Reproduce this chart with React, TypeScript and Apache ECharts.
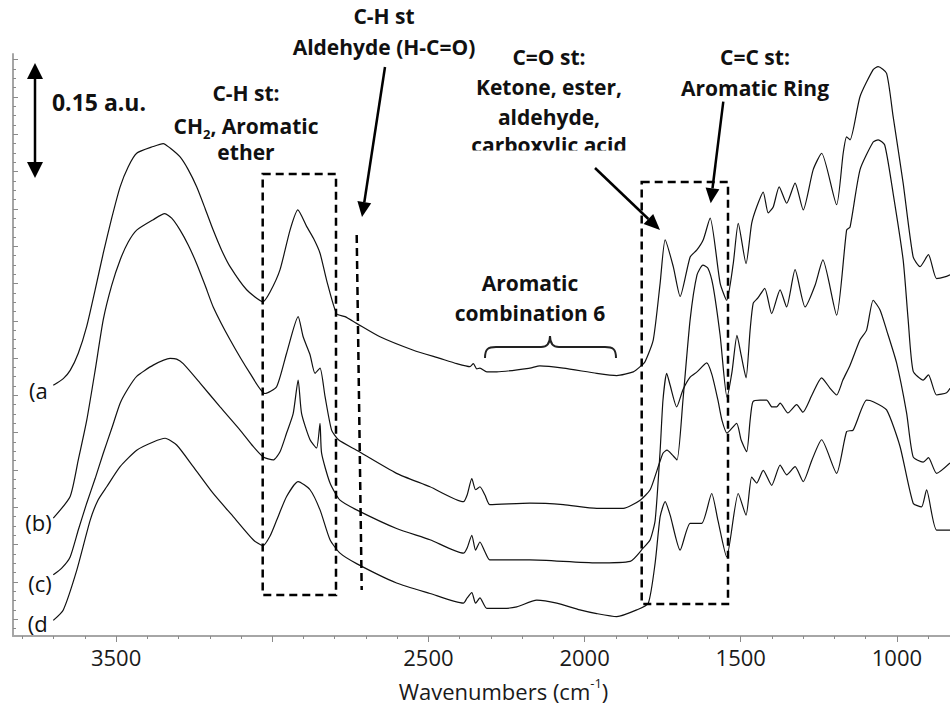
import { useEffect, useRef } from "react";
import * as echarts from "echarts";

// FTIR spectra, [wavenumber (cm-1), absorbance (a.u., stacked offsets)]
const traceA: [number, number][] = [
  [3701, 0.336], [3669, 0.345], [3647, 0.356], [3621, 0.379], [3594, 0.415], [3567, 0.464],
  [3541, 0.513], [3514, 0.56], [3487, 0.602], [3461, 0.629], [3434, 0.647], [3381, 0.656],
  [3349, 0.66], [3327, 0.654], [3295, 0.642], [3269, 0.625], [3242, 0.602], [3215, 0.573],
  [3189, 0.544], [3162, 0.517], [3135, 0.495], [3082, 0.464], [3030, 0.448], [3007, 0.461],
  [2975, 0.491], [2943, 0.544], [2918, 0.571], [2890, 0.549], [2868, 0.533], [2847, 0.513],
  [2826, 0.477], [2794, 0.432], [2767, 0.428], [2730, 0.419], [2655, 0.401], [2548, 0.383],
  [2463, 0.372], [2409, 0.365], [2367, 0.361], [2356, 0.365], [2345, 0.358], [2335, 0.359],
  [2313, 0.354], [2281, 0.354], [2175, 0.359], [2143, 0.362], [2068, 0.359], [1961, 0.352],
  [1897, 0.349], [1844, 0.354], [1822, 0.361], [1806, 0.368], [1780, 0.397], [1758, 0.473],
  [1742, 0.531], [1716, 0.495], [1694, 0.455], [1662, 0.508], [1641, 0.517], [1620, 0.531],
  [1598, 0.56], [1566, 0.473], [1545, 0.45], [1524, 0.499], [1508, 0.553], [1483, 0.499],
  [1465, 0.553], [1449, 0.575], [1428, 0.595], [1412, 0.567], [1396, 0.575], [1377, 0.602],
  [1353, 0.58], [1326, 0.607], [1300, 0.571], [1268, 0.625], [1241, 0.647], [1193, 0.578],
  [1172, 0.647], [1161, 0.669], [1150, 0.665], [1118, 0.723], [1076, 0.759], [1060, 0.763],
  [1033, 0.754], [1012, 0.696], [980, 0.607], [948, 0.508], [926, 0.495], [899, 0.511],
  [873, 0.479], [841, 0.482], [830, 0.484],
];

const traceB: [number, number][] = [
  [3701, 0.158], [3647, 0.187], [3621, 0.236], [3594, 0.289], [3567, 0.356], [3541, 0.424],
  [3514, 0.47], [3487, 0.504], [3461, 0.528], [3434, 0.544], [3381, 0.558], [3344, 0.566],
  [3322, 0.56], [3295, 0.544], [3269, 0.524], [3242, 0.499], [3215, 0.47], [3189, 0.441],
  [3135, 0.397], [3071, 0.352], [3023, 0.325], [2986, 0.334], [2954, 0.379], [2917, 0.428],
  [2901, 0.401], [2879, 0.377], [2863, 0.352], [2847, 0.359], [2831, 0.321], [2810, 0.276],
  [2788, 0.263], [2730, 0.249], [2602, 0.218], [2495, 0.2], [2388, 0.18], [2376, 0.189],
  [2361, 0.211], [2349, 0.196], [2335, 0.2], [2319, 0.189], [2303, 0.176], [2175, 0.178],
  [2068, 0.176], [1961, 0.171], [1876, 0.171], [1822, 0.182], [1790, 0.196], [1768, 0.222],
  [1749, 0.245], [1736, 0.249], [1720, 0.243], [1704, 0.236], [1685, 0.316], [1662, 0.424],
  [1640, 0.484], [1621, 0.497], [1605, 0.493], [1589, 0.47], [1566, 0.403], [1544, 0.32],
  [1528, 0.354], [1512, 0.403], [1499, 0.377], [1483, 0.346], [1470, 0.41], [1460, 0.446],
  [1445, 0.453], [1423, 0.466], [1401, 0.432], [1374, 0.464], [1353, 0.441], [1326, 0.491],
  [1294, 0.441], [1262, 0.47], [1237, 0.504], [1193, 0.43], [1161, 0.544], [1150, 0.548],
  [1118, 0.625], [1076, 0.662], [1060, 0.665], [1039, 0.658], [1012, 0.593], [980, 0.504],
  [964, 0.424], [948, 0.355], [916, 0.343], [899, 0.35], [873, 0.323], [841, 0.326],
  [830, 0.332],
];

const traceC: [number, number][] = [
  [3701, 0.082], [3674, 0.091], [3647, 0.106], [3621, 0.142], [3594, 0.178], [3567, 0.211],
  [3541, 0.245], [3514, 0.278], [3487, 0.312], [3461, 0.332], [3434, 0.348], [3381, 0.363],
  [3327, 0.372], [3306, 0.371], [3285, 0.365], [3231, 0.339], [3167, 0.307], [3103, 0.276],
  [3061, 0.254], [3029, 0.24], [2997, 0.236], [2975, 0.247], [2954, 0.272], [2933, 0.298],
  [2917, 0.343], [2906, 0.298], [2879, 0.263], [2858, 0.252], [2847, 0.285], [2842, 0.245],
  [2815, 0.205], [2783, 0.182], [2730, 0.169], [2602, 0.144], [2495, 0.129], [2388, 0.111],
  [2376, 0.118], [2361, 0.135], [2349, 0.115], [2335, 0.126], [2319, 0.113], [2303, 0.102],
  [2175, 0.102], [1961, 0.098], [1854, 0.1], [1812, 0.118], [1790, 0.129], [1774, 0.155],
  [1758, 0.249], [1749, 0.316], [1737, 0.352], [1726, 0.336], [1705, 0.307], [1685, 0.33],
  [1662, 0.347], [1640, 0.354], [1609, 0.366], [1592, 0.35], [1573, 0.316], [1560, 0.289],
  [1544, 0.272], [1513, 0.285], [1499, 0.263], [1481, 0.247], [1470, 0.289], [1461, 0.314],
  [1438, 0.316], [1417, 0.316], [1400, 0.307], [1385, 0.307], [1374, 0.312], [1349, 0.299],
  [1321, 0.31], [1301, 0.3], [1272, 0.323], [1241, 0.346], [1214, 0.332], [1193, 0.323],
  [1173, 0.343], [1150, 0.363], [1118, 0.397], [1097, 0.41], [1076, 0.45], [1054, 0.437],
  [1033, 0.41], [1001, 0.366], [969, 0.299], [948, 0.24], [916, 0.233], [899, 0.239],
  [873, 0.218], [830, 0.232],
];

const traceD: [number, number][] = [
  [3701, 0.021], [3669, 0.035], [3626, 0.088], [3583, 0.155], [3558, 0.182], [3530, 0.2],
  [3487, 0.227], [3434, 0.249], [3381, 0.26], [3343, 0.265], [3306, 0.256], [3253, 0.227],
  [3189, 0.191], [3125, 0.16], [3061, 0.129], [3030, 0.121], [3007, 0.134], [2986, 0.155],
  [2954, 0.187], [2917, 0.207], [2879, 0.196], [2847, 0.169], [2815, 0.129], [2783, 0.111],
  [2730, 0.097], [2602, 0.071], [2495, 0.057], [2388, 0.044], [2376, 0.051], [2361, 0.058],
  [2349, 0.044], [2335, 0.051], [2313, 0.037], [2260, 0.037], [2217, 0.039], [2153, 0.048],
  [2089, 0.044], [2015, 0.035], [1961, 0.03], [1897, 0.026], [1833, 0.035], [1796, 0.044],
  [1774, 0.098], [1758, 0.16], [1742, 0.18], [1726, 0.162], [1694, 0.115], [1662, 0.151],
  [1625, 0.151], [1593, 0.191], [1573, 0.155], [1545, 0.106], [1508, 0.191], [1483, 0.162],
  [1465, 0.213], [1449, 0.205], [1428, 0.222], [1401, 0.202], [1374, 0.229], [1353, 0.216],
  [1326, 0.227], [1300, 0.207], [1272, 0.236], [1241, 0.263], [1193, 0.218], [1161, 0.274],
  [1140, 0.276], [1097, 0.316], [1076, 0.314], [1033, 0.303], [990, 0.254], [948, 0.178],
  [921, 0.173], [905, 0.196], [873, 0.142], [830, 0.142],
];

const traceLabels = ["(a", "(b)", "(c)", "(d"];

// axis ticks (cm-1 on x, a.u. on y)
const xMajorTicks = [1000, 1500, 2000, 2500, 3000, 3500];
const xTickLabels = [1000, 1500, 2000, 2500, 3500];
const xMinorTicks: number[] = [];
for (let v = 900; v <= 3800; v += 100) if (v % 500 !== 0) xMinorTicks.push(v);
const yMajorTicks: number[] = [];
const yMinorTicks: number[] = [];
for (let i = 0; i < 16; i++) yMajorTicks.push(+(0.0225 + i * 0.05).toFixed(4));
for (let i = 0; i < 63; i++) {
  const v = +(0.0225 + i * 0.0125 - 0.0125).toFixed(4);
  if (i % 4 !== 1 && v > 0 && v < 0.78) yMinorTicks.push(v);
}

const FONT = '"Open Sans", "Noto Sans", sans-serif';
const INK = "#111";

const boldText = (text: string, x: number, y: number, size = 21) => ({
  type: "text",
  x,
  y,
  z: 100,
  silent: true,
  style: {
    text,
    font: `bold ${size}px ${FONT}`,
    fill: INK,
    align: "center",
    verticalAlign: "middle",
    textAlign: "center",
    textVerticalAlign: "middle",
  },
});

const dashed = { stroke: "#000", lineWidth: 2.5, lineDash: [8, 5], fill: "none" };
const solid = { stroke: "#000", lineWidth: 2.5 };

const arrowLine = (x1: number, y1: number, x2: number, y2: number) => ({
  type: "line",
  z: 100,
  silent: true,
  shape: { x1, y1, x2, y2 },
  style: solid,
});
const head = (pts: number[][]) => ({
  type: "polygon",
  z: 100,
  silent: true,
  shape: { points: pts },
  style: { fill: "#000" },
});
const brace = (x1: number, y1: number, cpx1: number, cpy1: number, cpx2: number, cpy2: number, x2: number, y2: number) => ({
  type: "bezierCurve",
  z: 100,
  silent: true,
  shape: { x1, y1, cpx1, cpy1, cpx2, cpy2, x2, y2 },
  style: { stroke: "#222", lineWidth: 2, fill: "none" },
});

const annotations = [
  // 0.15 a.u. scale bar
  arrowLine(35, 76, 35, 165),
  head([[35, 63], [27, 79], [43, 79]]),
  head([[35, 178], [27, 162], [43, 162]]),
  boldText("0.15 a.u.", 99, 102, 23),

  // C-H stretch box
  boldText("C-H st:", 246, 93),
  {
    type: "text",
    x: 246,
    y: 126,
    z: 100,
    silent: true,
    style: {
      text: "{m|CH}{s|2}{m|, Aromatic}",
      align: "center",
      verticalAlign: "middle",
      textAlign: "center",
      textVerticalAlign: "middle",
      rich: {
        m: { fontSize: 21, fontWeight: "bold", fontFamily: FONT, fill: INK, color: INK, lineHeight: 28 },
        s: { fontSize: 13, fontWeight: "bold", fontFamily: FONT, fill: INK, color: INK, lineHeight: 18, verticalAlign: "bottom" },
      },
    },
  },
  boldText("ether", 246, 152),
  { type: "rect", z: 100, silent: true, shape: { x: 262.7, y: 174, width: 73.3, height: 421 }, style: dashed },

  // aldehyde C-H
  boldText("C-H st", 384, 16),
  boldText("Aldehyde (H-C=O)", 384, 47),
  arrowLine(385, 67, 364.3, 202.2),
  head([[362, 217], [371.2, 203.3], [357.4, 201.1]]),
  { type: "line", z: 100, silent: true, shape: { x1: 356.7, y1: 235, x2: 361.7, y2: 590 }, style: dashed },

  // aromatic combination band
  boldText("Aromatic", 530, 283),
  boldText("combination 6", 530, 313),
  brace(485, 358, 485, 349, 488, 347, 496, 347),
  { type: "line", z: 100, silent: true, shape: { x1: 496, y1: 347, x2: 541, y2: 347 }, style: { stroke: "#222", lineWidth: 2 } },
  brace(541, 347, 547, 347, 550, 343, 550, 336),
  brace(550, 336, 550, 343, 553, 347, 559, 347),
  { type: "line", z: 100, silent: true, shape: { x1: 559, y1: 347, x2: 605, y2: 347 }, style: { stroke: "#222", lineWidth: 2 } },
  brace(605, 347, 613, 347, 616, 349, 616, 358),

  // carbonyl
  boldText("C=O st:", 549, 57),
  boldText("Ketone, ester,", 549, 87),
  boldText("aldehyde,", 549, 117),
  boldText("carboxylic acid", 549, 145),
  { type: "rect", z: 101, silent: true, shape: { x: 468, y: 150.5, width: 164, height: 12 }, style: { fill: "#fff" } },
  arrowLine(595, 168, 648.4, 219),
  head([[660, 230], [643.6, 224.1], [653.2, 213.9]]),

  // aromatic ring
  boldText("C=C st:", 755, 57),
  boldText("Aromatic Ring", 755, 88),
  arrowLine(723.3, 101.7, 712.5, 188.4),
  head([[710.7, 203.3], [719.4, 189.3], [705.6, 187.5]]),
  { type: "rect", z: 100, silent: true, shape: { x: 641.7, y: 182, width: 86.3, height: 422 }, style: dashed },
];

const labelPlacement = [
  { distance: 5, offset: [0, 5] },
  { distance: 1, offset: [0, 4] },
  { distance: 1, offset: [0, 8] },
  { distance: 5, offset: [0, 3] },
];

const option = {
  animation: false,
  backgroundColor: "#fff",
  grid: { left: 13, right: 0, top: 54, bottom: 76, containLabel: false, outerBoundsMode: "none" },
  xAxis: [
    {
      type: "value",
      min: 830,
      max: 3830,
      inverse: true,
      position: "bottom",
      axisLine: { show: true, onZero: false, lineStyle: { color: "#a6a6a6", width: 2 } },
      axisTick: { show: true, customValues: xMajorTicks, length: 6, lineStyle: { color: "#8a8a8a", width: 1 } },
      axisLabel: {
        show: true,
        customValues: xTickLabels,
        formatter: (v: number) => String(v),
        fontSize: 22,
        fontFamily: FONT,
        color: "#1a1a1a",
        margin: 10,
      },
      splitLine: { show: false },
      name: "{n|Wavenumbers (cm}{sup|-1}{n|)}",
      nameLocation: "middle",
      nameGap: 40,
      nameTextStyle: {
        padding: [0, 0, 0, 44],
        rich: {
          n: { fontSize: 22, fontFamily: FONT, color: "#1a1a1a", lineHeight: 30 },
          sup: { fontSize: 13, fontFamily: FONT, color: "#1a1a1a", lineHeight: 16, verticalAlign: "top" },
        },
      },
    },
    {
      type: "value",
      min: 830,
      max: 3830,
      inverse: true,
      position: "bottom",
      axisLine: { show: false, onZero: false },
      axisTick: { show: true, customValues: xMinorTicks, length: 3, lineStyle: { color: "#8a8a8a", width: 1 } },
      axisLabel: { show: false },
      splitLine: { show: false },
    },
  ],
  yAxis: [
    {
      type: "value",
      min: 0,
      max: 0.78,
      position: "left",
      axisLine: { show: true, onZero: false, lineStyle: { color: "#a6a6a6", width: 2 } },
      axisTick: { show: true, inside: true, customValues: yMajorTicks, length: 5, lineStyle: { color: "#8a8a8a", width: 1 } },
      axisLabel: { show: false },
      splitLine: { show: false },
    },
    {
      type: "value",
      min: 0,
      max: 0.78,
      position: "left",
      axisLine: { show: false, onZero: false },
      axisTick: { show: true, inside: true, customValues: yMinorTicks, length: 3, lineStyle: { color: "#8a8a8a", width: 1 } },
      axisLabel: { show: false },
      splitLine: { show: false },
    },
  ],
  series: [traceA, traceB, traceC, traceD].map((trace, i) => ({
    type: "line",
    name: traceLabels[i],
    xAxisIndex: 0,
    yAxisIndex: 0,
    data: trace,
    symbol: "none",
    showSymbol: false,
    smooth: 0.2,
    silent: true,
    lineStyle: { color: INK, width: 1.2 },
    markPoint: {
      silent: true,
      symbol: "circle",
      symbolSize: 1,
      itemStyle: { color: "rgba(0,0,0,0)" },
      label: {
        show: true,
        position: "left",
        distance: labelPlacement[i].distance,
        offset: labelPlacement[i].offset,
        formatter: traceLabels[i],
        color: INK,
        fontSize: 22,
        fontFamily: FONT,
      },
      data: [{ coord: trace[0] }],
    },
  })),
  graphic: { elements: annotations },
};

export default function App() {
  const ref = useRef<HTMLDivElement>(null);
  useEffect(() => {
    const chart = echarts.init(ref.current!, null, { renderer: "svg" });
    chart.setOption(option as any);
    return () => chart.dispose();
  }, []);
  return (
    <div
      ref={ref}
      style={{ position: "fixed", left: 0, top: 0, width: 950, height: 712, background: "#fff" }}
    />
  );
}
